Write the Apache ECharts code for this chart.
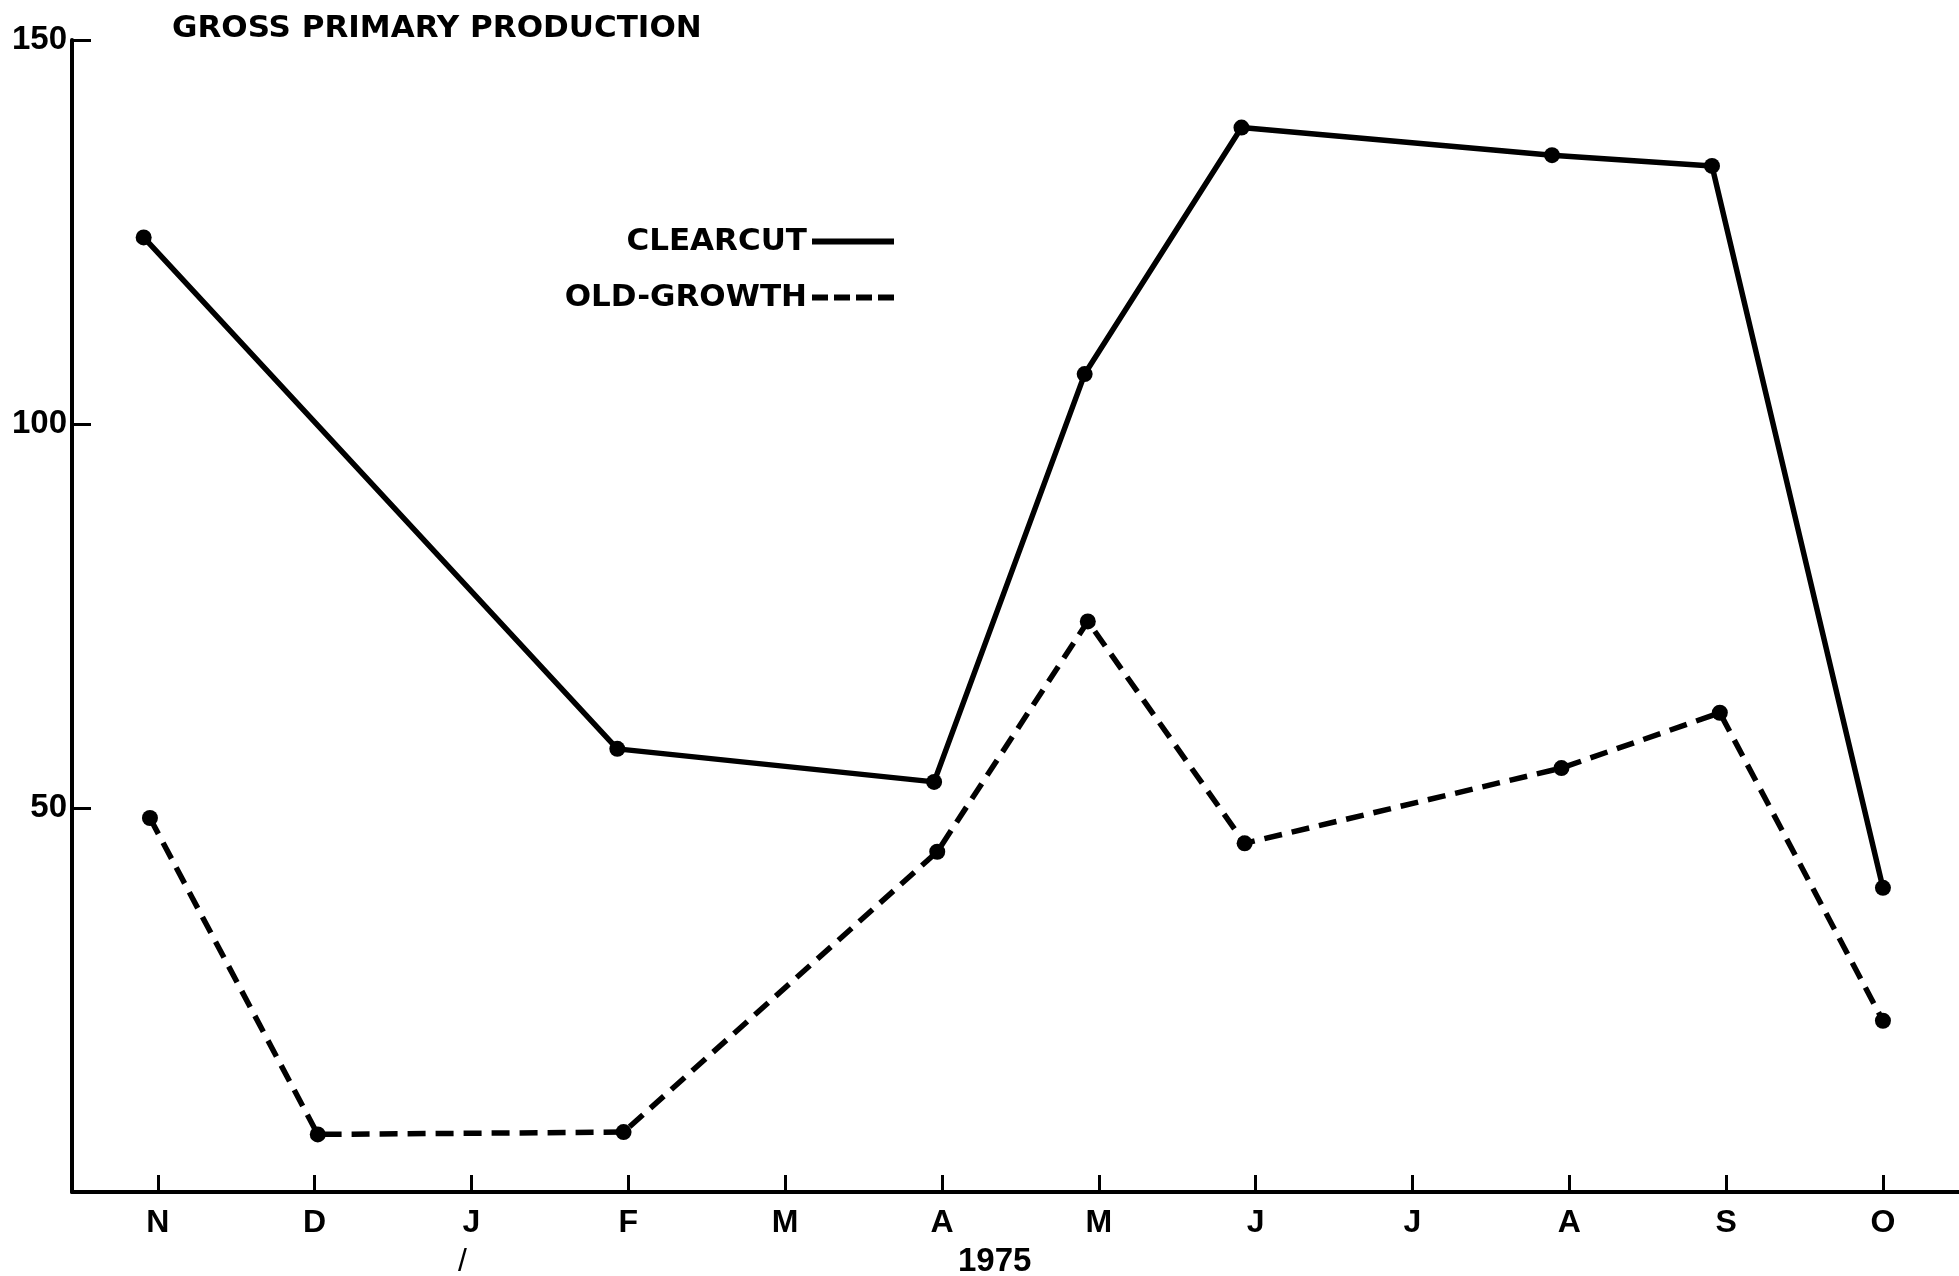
<!DOCTYPE html>
<html>
<head>
<meta charset="utf-8">
<script src="https://cdn.jsdelivr.net/npm/echarts@6/dist/echarts.min.js"></script>
<style>
html,body{margin:0;padding:0;background:#fff;}
#chart{width:1959px;height:1276px;}
</style>
</head>
<body>
<div id="chart"></div>
<script>
// Month tick labels (Nov 1974 - Oct 1975)
const months = ['N','D','J','F','M','A','M','J','J','A','S','O'];
const monthTicks = [0,1,2,3,4,5,6,7,8,9,10,11];
const yTicks = [50,100,150];

// Clearcut: sample positions (in months from Nov) and values
const clearcutX = [-0.09, 2.93, 4.95, 5.91, 6.91, 8.89, 9.91, 11.0];
const clearcutY = [124.3, 57.7, 53.4, 106.5, 138.6, 135.0, 133.6, 39.6];

// Old-growth
const oldX = [-0.05, 1.02, 2.97, 4.97, 5.93, 6.93, 8.95, 9.96, 11.0];
const oldY = [48.7, 7.5, 7.8, 44.3, 74.3, 45.4, 55.2, 62.4, 22.3];

const toPairs = (xs, ys) => xs.map((x, i) => [x, ys[i]]);

const chart = echarts.init(document.getElementById('chart'), null, {renderer: 'canvas'});
const LEG_FONT = {fontFamily: 'DejaVu Sans', fontWeight: 'bold', fontSize: 31, color: '#000'};

chart.setOption({
  animation: false,
  backgroundColor: '#fff',
  title: {
    text: 'GROSS PRIMARY PRODUCTION',
    left: 172, top: 13, padding: 0,
    textStyle: {fontFamily: 'DejaVu Sans', fontWeight: 'bold', fontSize: 31, color: '#000'}
  },
  legend: [
    {
      data: ['CLEARCUT'], orient: 'vertical', align: 'right',
      right: 1062, top: 226, padding: 0,
      itemWidth: 82, itemHeight: 14,
      itemStyle: {opacity: 0},
      lineStyle: {width: 6},
      textStyle: LEG_FONT
    },
    {
      data: ['OLD-GROWTH'], orient: 'vertical', align: 'right',
      right: 1062, top: 282, padding: 0,
      itemWidth: 82, itemHeight: 14,
      itemStyle: {opacity: 0},
      lineStyle: {width: 6, type: [16, 6]},
      textStyle: LEG_FONT
    }
  ],
  grid: {left: 72, right: 0, top: 40, bottom: 84, containLabel: false},
  xAxis: {
    type: 'value', min: -0.547, max: 11.485,
    splitLine: {show: false},
    axisLine: {show: true, onZero: false, lineStyle: {color: '#000', width: 4}},
    axisTick: {show: true, inside: true, length: 17, customValues: monthTicks, lineStyle: {color: '#000', width: 3}},
    axisLabel: {
      customValues: monthTicks, margin: 15,
      formatter: v => months[Math.round(v)],
      fontFamily: 'Liberation Sans', fontWeight: 'bold', fontSize: 32, color: '#000'
    }
  },
  yAxis: {
    type: 'value', min: 0, max: 150,
    splitLine: {show: false},
    axisLine: {show: true, onZero: false, lineStyle: {color: '#000', width: 4}},
    axisTick: {show: true, inside: true, length: 19, customValues: yTicks, lineStyle: {color: '#000', width: 3}},
    axisLabel: {
      customValues: yTicks, margin: 5,
      fontFamily: 'Liberation Sans', fontWeight: 'bold', fontSize: 33, color: '#000'
    }
  },
  series: [
    {
      name: 'CLEARCUT', type: 'line',
      data: toPairs(clearcutX, clearcutY),
      symbol: 'circle', symbolSize: 16,
      itemStyle: {color: '#000'},
      lineStyle: {color: '#000', width: 5.5, type: 'solid'}
    },
    {
      name: 'OLD-GROWTH', type: 'line',
      data: toPairs(oldX, oldY),
      symbol: 'circle', symbolSize: 16,
      itemStyle: {color: '#000'},
      lineStyle: {color: '#000', width: 5.5, type: [18, 10]}
    }
  ],
  graphic: [
    {type: 'text', left: 958, top: 1245, style: {text: '1975', font: 'bold 33px "Liberation Sans"', fill: '#000'}},
    {type: 'text', left: 458, top: 1246, style: {text: '/', font: '32px "Liberation Sans"', fill: '#000'}}
  ]
});
</script>
</body>
</html>
